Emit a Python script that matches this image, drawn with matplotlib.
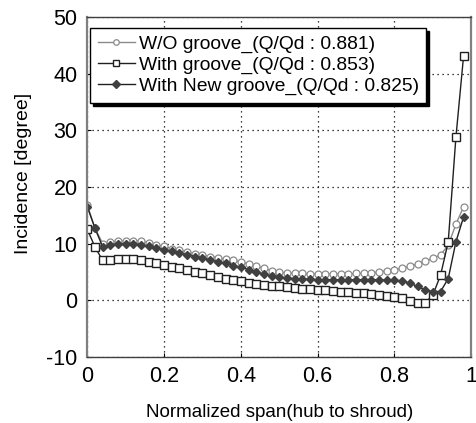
import matplotlib
matplotlib.use("Agg")
import matplotlib.pyplot as plt

plt.rcParams["font.family"] = ["Liberation Sans", "DejaVu Sans"]
plt.rcParams["axes.unicode_minus"] = False

# normalized span positions
span = [0.00, 0.02, 0.04, 0.06, 0.08, 0.10, 0.12, 0.14, 0.16, 0.18,
        0.20, 0.22, 0.24, 0.26, 0.28, 0.30, 0.32, 0.34, 0.36, 0.38,
        0.40, 0.42, 0.44, 0.46, 0.48, 0.50, 0.52, 0.54, 0.56, 0.58,
        0.60, 0.62, 0.64, 0.66, 0.68, 0.70, 0.72, 0.74, 0.76, 0.78,
        0.80, 0.82, 0.84, 0.86, 0.88, 0.90, 0.92, 0.94, 0.96, 0.98]

# incidence [deg]
wo_groove = [16.8, 12.7, 10.0, 10.3, 10.4, 10.5, 10.5, 10.4, 10.1, 9.8,
             9.5, 9.1, 8.8, 8.5, 8.2, 8.0, 7.7, 7.5, 7.2, 7.0,
             6.8, 6.4, 6.0, 5.6, 5.2, 4.9, 4.8, 4.7, 4.7, 4.6,
             4.6, 4.6, 4.6, 4.6, 4.6, 4.7, 4.7, 4.8, 5.0, 5.2,
             5.4, 5.6, 6.0, 6.4, 6.9, 7.4, 8.0, 9.7, 13.4, 16.5]

with_groove = [12.5, 9.4, 7.0, 7.1, 7.2, 7.2, 7.2, 7.0, 6.8, 6.5,
               6.2, 5.9, 5.6, 5.3, 5.0, 4.7, 4.4, 4.1, 3.8, 3.5,
               3.3, 3.1, 2.9, 2.7, 2.5, 2.4, 2.3, 2.1, 2.0, 1.9,
               1.8, 1.7, 1.6, 1.5, 1.4, 1.3, 1.2, 1.1, 0.9, 0.7,
               0.5, 0.3, -0.1, -0.5, -0.5, 0.9, 4.4, 10.3, 28.8, 43.2]

new_groove = [16.5, 12.7, 9.4, 9.8, 9.9, 10.0, 10.0, 9.8, 9.5, 9.2,
              8.9, 8.6, 8.3, 8.0, 7.7, 7.4, 7.1, 6.8, 6.5, 6.1,
              5.8, 5.4, 5.0, 4.6, 4.3, 4.1, 3.9, 3.8, 3.7, 3.7,
              3.6, 3.6, 3.6, 3.6, 3.6, 3.6, 3.6, 3.6, 3.6, 3.5,
              3.5, 3.4, 3.0, 2.4, 1.8, 1.5, 1.5, 3.8, 10.3, 14.7]

labels = ["W/O groove_(Q/Qd : 0.881)",
          "With groove_(Q/Qd : 0.853)",
          "With New groove_(Q/Qd : 0.825)"]

fig = plt.figure(figsize=(4.77, 4.23), dpi=100)
ax = fig.add_axes([0.183, 0.157, 0.805, 0.802])

ax.plot(span, wo_groove, "-o", color="#8a8a8a", lw=1.0, ms=5,
        mfc="white", mec="#8a8a8a", mew=0.9, label=labels[0])
ax.plot(span, with_groove, "-s", color="#202020", lw=1.0, ms=5.5,
        mfc="white", mec="#202020", mew=1.0, label=labels[1])
ax.plot(span, new_groove, "-D", color="#202020", lw=1.0, ms=4.5,
        mfc="#404040", mec="#404040", label=labels[2])

ax.set_xlim(0, 1)
ax.set_ylim(-10, 50)
ax.set_xticks([0, 0.2, 0.4, 0.6, 0.8, 1])
ax.set_xticklabels(["0", "0.2", "0.4", "0.6", "0.8", "1"])
ax.set_yticks([-10, 0, 10, 20, 30, 40, 50])
ax.tick_params(labelsize=15.5, direction="in", length=3, pad=7)
ax.grid(True, linestyle=(0, (1, 3)), color="black", lw=0.9)

for s in ["left", "right"]:
    ax.spines[s].set_color("#808080")
    ax.spines[s].set_linewidth(1.6)
for s in ["top", "bottom"]:
    ax.spines[s].set_color("#404040")
    ax.spines[s].set_linewidth(1.0)

ax.set_xlabel("Normalized span(hub to shroud)", fontsize=13.5, labelpad=12)
ax.set_ylabel("Incidence [degree]", fontsize=14, labelpad=10)
ax.yaxis.label.set_y(0.54)

leg = ax.legend(loc="upper left", bbox_to_anchor=(0.008, 0.969), fontsize=13.9,
                fancybox=False, shadow={"color": "black", "alpha": 1, "ox": 2, "oy": -2},
                framealpha=1, edgecolor="black", handlelength=1.9,
                handletextpad=0.2, borderpad=0.4, labelspacing=0.17,
                borderaxespad=0.0, markerscale=0.8)
leg.get_frame().set_linewidth(1.0)

fig.savefig("out.png", dpi=100)
